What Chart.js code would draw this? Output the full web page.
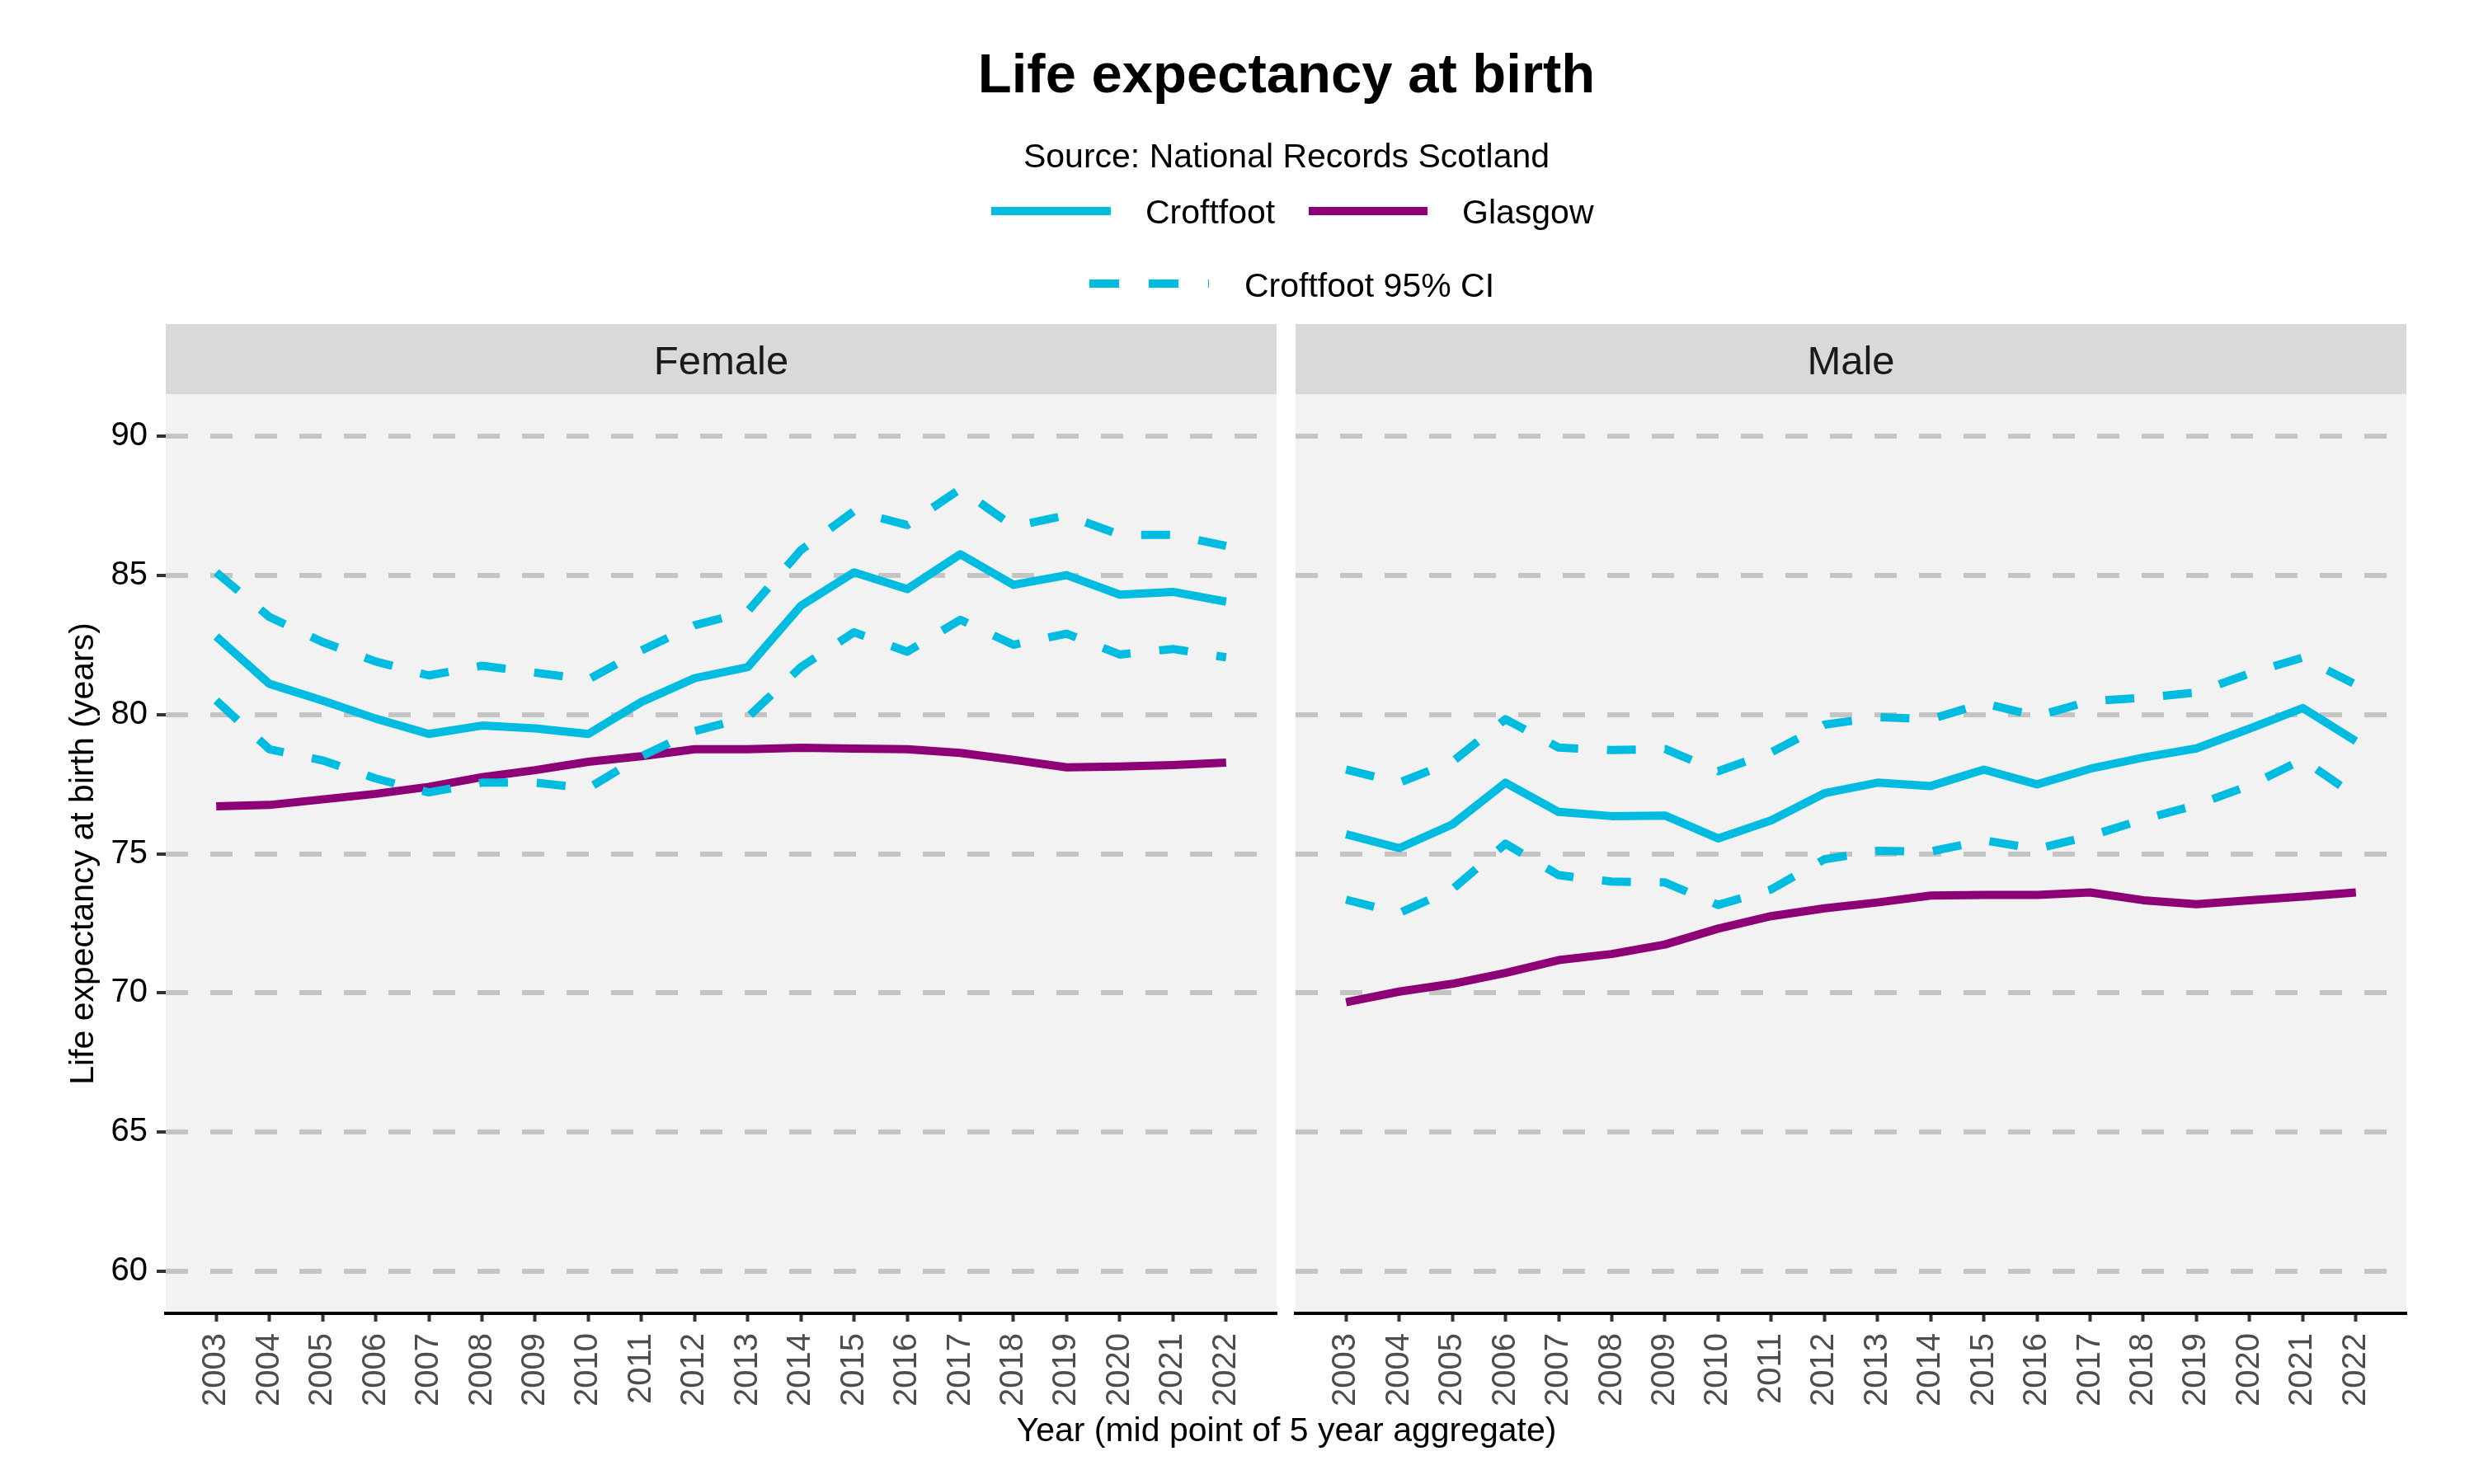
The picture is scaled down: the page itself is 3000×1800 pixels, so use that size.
<!DOCTYPE html>
<html>
<head>
<meta charset="utf-8">
<title>Life expectancy at birth</title>
<script src="https://cdn.jsdelivr.net/npm/chart.js@4.4.1/dist/chart.umd.min.js"></script>
<style>
  html, body { margin: 0; padding: 0; background: #ffffff; }
  #wrap { position: relative; width: 3000px; height: 1800px; }
  #wrap canvas { position: absolute; left: 0; top: 0; }
</style>
</head>
<body>
<div id="wrap">
  <canvas id="femaleChart" width="3000" height="1800"></canvas>
  <canvas id="maleChart" width="3000" height="1800"></canvas>
</div>
<script>
// 1. Data
const years = [2003, 2004, 2005, 2006, 2007, 2008, 2009, 2010, 2011, 2012,
               2013, 2014, 2015, 2016, 2017, 2018, 2019, 2020, 2021, 2022];
const yTicks = [60, 65, 70, 75, 80, 85, 90];
const panelNames = ['Female', 'Male'];
const legendLabels = ['Croftfoot', 'Glasgow', 'Croftfoot 95% CI'];

const femaleCroftfoot = [82.8, 81.1, 80.5, 79.85, 79.3, 79.6, 79.5, 79.3, 80.45, 81.3,
                         81.7, 83.9, 85.1, 84.5, 85.75, 84.65, 85.0, 84.3, 84.4, 84.05];
const femaleUpper = [85.1, 83.5, 82.6, 81.9, 81.4, 81.75, 81.5, 81.25, 82.3, 83.2,
                     83.7, 85.9, 87.3, 86.8, 88.1, 86.75, 87.15, 86.45, 86.45, 86.05];
const femaleLower = [80.5, 78.75, 78.35, 77.7, 77.2, 77.55, 77.55, 77.35, 78.5, 79.4,
                     79.9, 81.7, 82.95, 82.25, 83.4, 82.5, 82.9, 82.15, 82.35, 82.05];
const femaleGlasgow = [76.7, 76.75, 76.95, 77.15, 77.4, 77.75, 78.0, 78.3, 78.5, 78.75,
                       78.75, 78.8, 78.77, 78.75, 78.62, 78.37, 78.1, 78.13, 78.18, 78.27];

const maleCroftfoot = [75.7, 75.2, 76.05, 77.55, 76.5, 76.35, 76.37, 75.55, 76.2, 77.17,
                       77.55, 77.43, 78.02, 77.49, 78.05, 78.45, 78.78, 79.49, 80.23, 79.04];
const maleUpper = [78.02, 77.55, 78.3, 79.83, 78.81, 78.72, 78.76, 77.96, 78.64, 79.63,
                   79.9, 79.83, 80.4, 79.94, 80.48, 80.6, 80.79, 81.47, 82.04, 81.07];
const maleLower = [73.35, 72.87, 73.72, 75.36, 74.23, 74.0, 73.97, 73.16, 73.72, 74.8,
                   75.1, 75.08, 75.48, 75.17, 75.64, 76.23, 76.75, 77.45, 78.38, 77.06];
const maleGlasgow = [69.67, 70.05, 70.33, 70.72, 71.18, 71.4, 71.74, 72.31, 72.76, 73.04,
                     73.25, 73.5, 73.52, 73.52, 73.61, 73.33, 73.19, 73.33, 73.46, 73.61];

// 2. Styling
const CYAN = '#00bce0';
const PURPLE = '#8e0076';
const FONT = "'Liberation Sans', Arial, Helvetica, sans-serif";

function toPoints(values) {
    return years.map((yr, i) => ({ x: yr, y: values[i] }));
}

function buildDatasets(croftfoot, upper, lower, glasgow) {
    const base = { pointRadius: 0, borderWidth: 10, tension: 0, fill: false,
                   borderJoinStyle: 'round', borderCapStyle: 'butt' };
    // first entry is drawn on top
    return [
        { ...base, label: 'Croftfoot 95% CI upper', data: toPoints(upper), borderColor: CYAN, borderDash: [35, 35] },
        { ...base, label: 'Croftfoot 95% CI lower', data: toPoints(lower), borderColor: CYAN, borderDash: [35, 35] },
        { ...base, label: 'Croftfoot', data: toPoints(croftfoot), borderColor: CYAN },
        { ...base, label: 'Glasgow', data: toPoints(glasgow), borderColor: PURPLE }
    ];
}

// 3. Plugins: panel background + strip, and the shared header / legend
const panelPlugin = {
    id: 'panel',
    beforeDraw: (chart, args, opts) => {
        const { ctx, chartArea: a } = chart;
        ctx.save();
        ctx.fillStyle = '#f2f2f2';
        ctx.fillRect(a.left, a.top, a.right - a.left, a.bottom - a.top);
        ctx.fillStyle = '#d9d9d9';
        ctx.fillRect(a.left, a.top - 85, a.right - a.left, 85);
        ctx.fillStyle = '#1a1a1a';
        ctx.font = '49px ' + FONT;
        ctx.textAlign = 'center';
        ctx.textBaseline = 'alphabetic';
        ctx.fillText(opts.strip, (a.left + a.right) / 2, a.top - 24);
        ctx.restore();
    }
};

const headerPlugin = {
    id: 'header',
    afterDraw: (chart) => {
        const { ctx } = chart;
        ctx.save();
        ctx.fillStyle = '#000000';
        ctx.textBaseline = 'alphabetic';
        ctx.textAlign = 'center';
        ctx.font = 'bold 67px ' + FONT;
        ctx.fillText('Life expectancy at birth', 1560, 112);
        ctx.font = '41px ' + FONT;
        ctx.fillText('Source: National Records Scotland', 1560, 203);
        ctx.fillText('Year (mid point of 5 year aggregate)', 1560, 1748);

        const sample = (x1, x2, y, colour, dash) => {
            ctx.beginPath();
            ctx.setLineDash(dash);
            ctx.lineWidth = 10;
            ctx.lineCap = 'butt';
            ctx.strokeStyle = colour;
            ctx.moveTo(x1, y);
            ctx.lineTo(x2, y);
            ctx.stroke();
        };
        ctx.textAlign = 'left';
        sample(1202, 1347, 256, CYAN, []);
        ctx.fillText(legendLabels[0], 1389, 271);
        sample(1587, 1731, 256, PURPLE, []);
        ctx.fillText(legendLabels[1], 1773, 271);
        sample(1321, 1466, 344, CYAN, [36, 36]);
        ctx.fillText(legendLabels[2], 1509, 360);
        ctx.restore();
    }
};

function makeOptions(strip, showY, padding) {
    return {
        responsive: false,
        animation: false,
        devicePixelRatio: 1,
        events: [],
        layout: { padding: padding },
        scales: {
            x: {
                type: 'linear', min: 2002.05, max: 2022.95,
                afterBuildTicks: (s) => { s.ticks = years.map(v => ({ value: v })); },
                afterFit: (s) => { s.height = 207; },
                ticks: { autoSkip: false, minRotation: 90, maxRotation: 90, padding: 14,
                         color: '#4d4d4d', font: { family: FONT, size: 40 },
                         callback: (v) => String(v) },
                grid: { drawOnChartArea: false, drawTicks: true, tickLength: 10, tickWidth: 4, tickColor: '#333333' },
                border: { display: true, color: '#000000', width: 4 }
            },
            y: {
                type: 'linear', min: 58.5, max: 91.5,
                afterBuildTicks: (s) => { s.ticks = yTicks.map(v => ({ value: v })); },
                afterFit: (s) => { s.width = showY ? 201 : 0; },
                ticks: { display: showY, padding: 11, color: '#000000',
                         font: { family: FONT, size: 40 }, callback: (v) => String(v) },
                grid: { color: '#c4c4c4', lineWidth: 6, drawTicks: showY,
                        tickLength: 11, tickWidth: 4, tickColor: '#333333' },
                border: { display: false, dash: [27, 27] },
                title: { display: showY, text: 'Life expectancy at birth (years)', color: '#000000',
                         font: { family: FONT, size: 41 }, padding: { top: 77, bottom: 0 } }
            }
        },
        plugins: {
            legend: { display: false },
            tooltip: { enabled: false },
            panel: { strip: strip }
        }
    };
}

// 4. Female panel (also carries title, legend and x title)
new Chart(document.getElementById('femaleChart').getContext('2d'), {
    type: 'line',
    data: { datasets: buildDatasets(femaleCroftfoot, femaleUpper, femaleLower, femaleGlasgow) },
    options: makeOptions(panelNames[0], true, { top: 478, left: 0, right: 1452, bottom: 0 }),
    plugins: [panelPlugin, headerPlugin]
});

// 5. Male panel
new Chart(document.getElementById('maleChart').getContext('2d'), {
    type: 'line',
    data: { datasets: buildDatasets(maleCroftfoot, maleUpper, maleLower, maleGlasgow) },
    options: makeOptions(panelNames[1], false, { top: 478, left: 1571, right: 82, bottom: 0 }),
    plugins: [panelPlugin]
});
</script>
</body>
</html>
